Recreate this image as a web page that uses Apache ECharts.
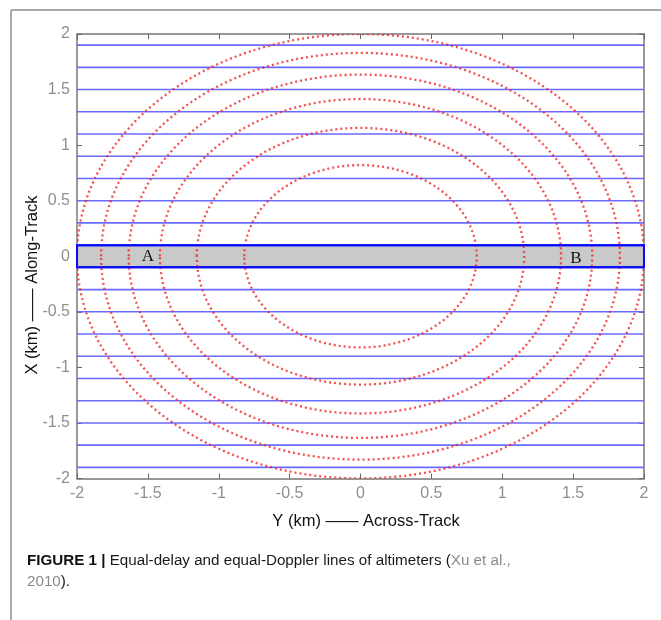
<!DOCTYPE html>
<html><head><meta charset="utf-8">
<script src="https://cdn.jsdelivr.net/npm/echarts@6/dist/echarts.min.js"></script>
<style>html,body{margin:0;padding:0;background:#fff;}#c{width:661px;height:620px;}</style>
</head><body><div id="c"></div>
<script>
// ---- data ----
const axisMin = -2, axisMax = 2, axisStep = 0.5;
const delayRadii = [0.82, 1.155, 1.415, 1.635, 1.83, 2.0];          // equal-delay circles (km)
const dopplerLines = [1.9, 1.7, 1.5, 1.3, 1.1, 0.9, 0.7, 0.5, 0.3, 0.1,
                      -0.1, -0.3, -0.5, -0.7, -0.9, -1.1, -1.3, -1.5, -1.7, -1.9]; // equal-Doppler lines (km)
const bandX = [-2, 2];
const bandY = [0.1, -0.1];
const pointNames = ['A', 'B'];
const pointX = [-1.5, 1.52];
const pointY = [0, -0.02];
const xName = 'Y (km) —— Across-Track';
const yName = 'X (km) —— Along-Track';

const chart = echarts.init(document.getElementById('c'), null, {renderer: 'canvas'});
const font = '"Liberation Sans", Arial, sans-serif';
const axisCommon = {
  type: 'value', min: axisMin, max: axisMax, interval: axisStep,
  splitLine: {show: false},
  axisLine: {show: true, onZero: false, lineStyle: {color: '#777', width: 1.5}},
  axisTick: {show: true, inside: true, length: 5, lineStyle: {color: '#666', width: 1}},
};
const option = {
  backgroundColor: '#fff',
  animation: false,
  grid: {left: 77, top: 34, right: 17, bottom: 141.5},
  xAxis: [
    Object.assign({}, axisCommon, {position: 'bottom',
      axisLabel: {show: true, margin: 7, color: '#8f8f8f', fontSize: 16, fontFamily: font}}),
    Object.assign({}, axisCommon, {position: 'top', axisLabel: {show: false}})
  ],
  yAxis: [
    Object.assign({}, axisCommon, {position: 'left',
      axisLabel: {show: true, margin: 7, color: '#8f8f8f', fontSize: 16, fontFamily: font}}),
    Object.assign({}, axisCommon, {position: 'right', axisLabel: {show: false}})
  ],
  series: [
    { // shaded band
      type: 'custom', clip: true, z: 1,
      data: [[bandX[0], bandY[0], bandX[1], bandY[1]]],
      renderItem: function (params, api) {
        const p1 = api.coord([api.value(0), api.value(1)]);
        const p2 = api.coord([api.value(2), api.value(3)]);
        return {type: 'rect', shape: {x: p1[0], y: p1[1], width: p2[0] - p1[0], height: p2[1] - p1[1]},
          style: {fill: '#c9c9c9', stroke: null}};
      }
    },
    { // equal-Doppler lines
      type: 'custom', clip: true, z: 2,
      data: dopplerLines.map(v => [0, v]),
      renderItem: function (params, api) {
        const y = api.value(1);
        const p1 = api.coord([axisMin, y]);
        const p2 = api.coord([axisMax, y]);
        const strong = Math.abs(y) < 0.15;
        return {type: 'line', shape: {x1: p1[0], y1: p1[1], x2: p2[0], y2: p2[1]},
          style: {stroke: strong ? '#0a0aff' : '#6a6aff', lineWidth: strong ? 2 : 1.6}};
      }
    },
    { // equal-delay circles
      type: 'custom', clip: true, z: 3,
      data: delayRadii.map(r => [0, 0, r]),
      renderItem: function (params, api) {
        const c = api.coord([api.value(0), api.value(1)]);
        const s = api.size([api.value(2), api.value(2)]);
        return {type: 'ellipse', shape: {cx: c[0], cy: c[1], rx: s[0], ry: s[1]},
          style: {fill: 'none', stroke: 'rgba(240,35,35,0.8)', lineWidth: 2.3, lineDash: [2, 3]}};
      }
    },
    { // band outline
      type: 'custom', clip: false, z: 4,
      data: [[bandX[0], bandY[0], bandX[1], bandY[1]]],
      renderItem: function (params, api) {
        const p1 = api.coord([api.value(0), api.value(1)]);
        const p2 = api.coord([api.value(2), api.value(3)]);
        return {type: 'rect', shape: {x: p1[0], y: p1[1], width: p2[0] - p1[0], height: p2[1] - p1[1]},
          style: {fill: 'none', stroke: '#0a0aff', lineWidth: 2}};
      }
    },
    { // A / B labels
      type: 'custom', clip: false, z: 5,
      data: pointNames.map((n, i) => [pointX[i], pointY[i], i]),
      renderItem: function (params, api) {
        const p = api.coord([api.value(0), api.value(1)]);
        return {type: 'text', x: p[0], y: p[1],
          style: {text: pointNames[api.value(2)], fill: '#111', font: '17px "Liberation Serif", "Times New Roman", serif',
            align: 'center', verticalAlign: 'middle', textAlign: 'center', textVerticalAlign: 'middle'}};
      }
    }
  ],
  graphic: [
    {type: 'line', shape: {x1: 11, y1: 10, x2: 661, y2: 10}, style: {stroke: '#8c8c8c', lineWidth: 1.5}},
    {type: 'line', shape: {x1: 11, y1: 10, x2: 11, y2: 620}, style: {stroke: '#8c8c8c', lineWidth: 1.5}},
    {type: 'text', x: 366, y: 521, style: {text: xName, fill: '#111', font: '16.5px ' + font,
      align: 'center', verticalAlign: 'middle'}},
    {type: 'text', x: 32, y: 285, rotation: Math.PI / 2, style: {text: yName, fill: '#111', font: '16.5px ' + font,
      align: 'center', verticalAlign: 'middle'}},
    {type: 'text', x: 27, y: 550, style: {
      text: '{b|FIGURE 1 |} Equal-delay and equal-Doppler lines of altimeters ({g|Xu et al.,}\n{g|2010}).',
      font: '15.2px ' + font, fill: '#1a1a1a', lineHeight: 21, verticalAlign: 'top',
      rich: {b: {font: 'bold 15.2px ' + font, fill: '#111', lineHeight: 21},
             g: {font: '15.2px ' + font, fill: '#8a8a8a', lineHeight: 21}}}}
  ]
};
chart.setOption(option);
</script></body></html>
